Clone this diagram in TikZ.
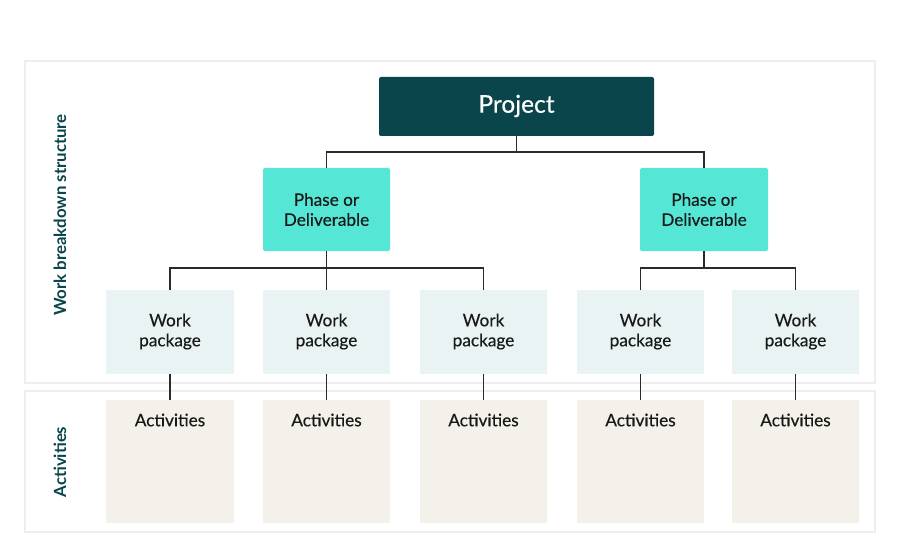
\documentclass[tikz,border=0pt]{standalone}
\usepackage{fontspec}
\setmainfont{Lato}
\newfontfamily\medfont[FakeBold=0.35]{Lato}
\definecolor{projcol}{HTML}{0A454B}
\definecolor{phasecol}{HTML}{55E6D6}
\definecolor{wpcol}{HTML}{EAF3F3}
\definecolor{actcol}{HTML}{F4F1EA}
\definecolor{panelcol}{HTML}{EEEEF0}
\definecolor{linecol}{HTML}{2A2A2A}
\definecolor{labelcol}{HTML}{0A454B}
\begin{document}
\begin{tikzpicture}[x=1pt,y=-1pt,
  panel/.style={draw=panelcol,line width=1.2pt},
  boxtext/.style={align=center,text=black!90,font=\medfont\fontsize{17.2}{20}\selectfont},
  conn/.style={draw=linecol,line width=1.1pt},
  sidelabel/.style={rotate=90,text=labelcol,font=\bfseries\fontsize{16.8}{19}\selectfont}
]
\useasboundingbox (0,0) rectangle (900,559);
\fill[white] (0,0) rectangle (900,559);
% panels
\draw[panel] (25,61) rectangle (875,383);
\draw[panel] (25,391) rectangle (875,532);
\node[sidelabel] (lwbs) at (60,215) {Work breakdown structure};
\node[sidelabel] (lact) at (60,462) {Activities};
% project
\fill[projcol,rounded corners=2pt] (379,77) rectangle (654,136);
\node[text=white,font=\medfont\fontsize{24.5}{28}\selectfont] (proj) at (516.5,106) {Project};
\coordinate (projb) at (516.5,136);
% phases
\fill[phasecol,rounded corners=2pt] (263,168) rectangle (390,251);
\fill[phasecol,rounded corners=2pt] (640,168) rectangle (768,251);
\node[boxtext] (ph1) at (326.5,209.5) {Phase or\\Deliverable};
\node[boxtext] (ph2) at (704,209.5) {Phase or\\Deliverable};
\coordinate (ph1t) at (326.5,168); \coordinate (ph1b) at (326.5,251);
\coordinate (ph2t) at (704,168); \coordinate (ph2b) at (704,251);
% work packages and activities
\foreach \i/\xa/\xb in {1/106/234,2/263/390,3/420/547,4/577/704,5/732/859}{
  \fill[wpcol] (\xa,290) rectangle (\xb,374);
  \fill[actcol] (\xa,400) rectangle (\xb,523);
  \pgfmathsetmacro{\xc}{(\xa+\xb)/2}
  \node[boxtext] (wp\i) at (\xc,331.5) {Work\\package};
  \node[boxtext] (act\i) at (\xc,420) {Activities};
  \coordinate (wp\i t) at (\xc,290);
  \coordinate (wp\i b) at (\xc,374);
  \coordinate (act\i t) at (\xc,400);
  \draw[conn] (wp\i b) -- (act\i t);
}
% connectors
\draw[conn] (projb) -- (516.5,152) -| (ph1t);
\draw[conn] (projb) -- (516.5,152) -| (ph2t);
\draw[conn] (ph1b) -- (326.5,268) -| (wp1t);
\draw[conn] (ph1b) -- (wp2t);
\draw[conn] (ph1b) -- (326.5,268) -| (wp3t);
\draw[conn] (ph2b) -- (704,268) -| (wp4t);
\draw[conn] (ph2b) -- (704,268) -| (wp5t);
\end{tikzpicture}
\end{document}
